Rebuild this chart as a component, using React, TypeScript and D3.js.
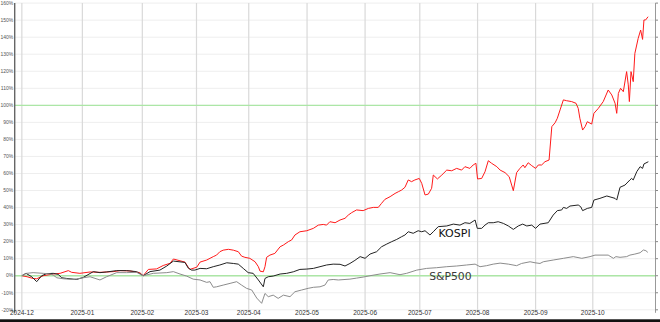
import React from "react";
import * as d3 from "d3";

// x = trading-day index (0 = first session of Dec 2024)
const monthLabels = ["2024-12","2025-01","2025-02","2025-03","2025-04","2025-05","2025-06","2025-07","2025-08","2025-09","2025-10"];
const monthStartDay = [0, 22, 43.8, 63.5, 82.5, 103.7, 124.8, 144.7, 165.7, 186.8, 207.6];
const yTicks = [-20,-10,0,10,20,30,40,50,60,70,80,90,100,110,120,130,140,150,160];
const refLines = [0, 100];

const redDay = [0,1.9,4.0,5.4,7.8,11.4,13.9,16.9,18.1,21.1,24.8,28.4,33.2,35.7,39.3,42.9,44.1,46.0,49.0,51.4,53.9,55.1,59.3,60.5,61.1,63.6,64.8,67.2,69.6,70.8,72.0,73.2,75.1,76.9,78.7,79.9,81.1,82.9,84.8,86.0,86.6,87.8,88.4,89.0,90.2,92.0,93.9,95.1,96.9,98.1,99.3,101.1,103.6,106.0,107.8,109.6,110.8,112.0,113.9,115.7,117.5,118.7,119.9,121.7,124.1,126.0,127.8,129.6,130.8,132.0,133.9,135.7,136.9,138.1,139.3,140.5,141.7,142.9,144.5,145.4,146.6,147.8,149.0,149.6,151.1,152.7,154.5,156.3,158.1,159.9,161.1,162.9,164.1,165.1,165.7,167.2,168.4,169.6,170.8,172.7,173.9,175.7,177.2,178.1,178.7,179.9,181.1,182.3,182.9,184.1,185.4,186.8,187.8,189.0,190.2,191.7,192.7,193.9,194.7,195.7,196.9,198.1,199.9,201.5,202.3,202.9,203.9,204.8,205.6,207.2,208.0,209.6,211.4,213.2,214.5,215.7,216.3,216.9,217.7,218.7,219.9,220.5,220.9,221.5,222.3,222.9,224.1,225.0,225.7,226.2,226.8,227.7];
const redValue = [0,-0.6,-1.6,-1.8,0,1,1.4,3,2,1.4,2.2,2,2.4,3,2.8,1.8,0,3.7,4,6,7.3,9.8,8,5,3.7,5,8,9.2,11.2,12.1,14.1,15,15.5,15,14.1,11.5,10.8,10.2,8.2,5.3,2.7,2.3,5.3,10.8,12.1,13.1,17,18,20,21,23.9,25.8,26.4,27.8,29.7,30.1,29.7,31.7,31.1,32.7,33.7,35.6,37,38.6,38.2,39.5,40.1,40.1,42.5,44.8,46.4,48.3,49.3,50.3,51.9,56.2,55.2,56.2,57.1,54.2,47.4,47.9,51.3,59.1,56.8,59.1,62,61.6,63,62,64,63,65,66,56.8,57.1,61,67.5,66,64,62,60.5,58.1,53.2,49.9,60.5,63,65,63.4,66.3,64.6,63,65,65,66.9,67.9,87.5,89.8,92.4,97.3,103.2,102.7,102.2,101.2,98.2,92.4,85.5,87.5,90.4,89,95.3,98.2,102.2,109,106.1,101.2,95.3,107,110,108,119.8,112,102.2,119.8,113.9,130.5,139.3,144.2,138.7,150.1,150.1,152];

const kospiDay = [0,1.5,3.6,5.4,7.2,9.0,11.4,13.2,14.5,16.3,19.9,22.3,26.0,28.4,30.8,34.5,38.1,41.7,44.1,46.6,50.2,52.7,55.1,59.3,60.5,61.7,62.9,64.8,67.2,69.6,72.0,74.5,76.9,78.7,80.5,82.3,84.1,86.0,87.8,88.4,89.6,91.4,93.9,96.3,98.7,101.1,103.6,106.0,108.4,110.8,113.2,115.7,117.5,119.3,121.1,123.0,124.8,126.6,129.0,130.8,132.7,134.5,136.3,138.1,139.3,140.5,142.3,144.1,145.4,146.6,148.4,149.6,151.4,154.5,156.9,159.3,161.1,162.9,164.8,165.6,167.2,168.4,169.6,171.4,173.2,175.1,176.9,178.7,180.5,182.1,183.6,185.4,186.8,188.4,191.4,193.2,194.7,196.3,196.9,198.1,199.3,202.3,203.2,203.9,205.6,207.2,208.0,210.2,212.7,215.7,216.3,217.5,219.3,221.1,221.7,222.3,223.6,224.8,225.7,226.2,227.8];
const kospiValue = [0,1.4,-0.6,-3.5,0,1.2,1.4,0.8,-1.2,-1.6,-2.2,-1,2.4,1.8,2.2,3,3,2.4,0,2.4,3.3,5.7,8.6,7.8,4.5,3.3,3.3,4.3,4.1,5.3,6.3,7.6,7.2,6.8,4.3,1.8,1.4,-2.5,-6.5,-1.6,-0.6,-0.2,1,1.4,2.3,3.7,3.9,4.3,5.3,6.3,6.8,6.7,5.7,7.2,9,11.2,10.2,12.7,14.1,17,18.6,20,21.3,22.9,23.9,25.8,24.9,26.4,25.8,26.4,23.9,25.8,28.8,29.2,30.3,29.7,31.1,30.7,32.7,27.8,27.8,29.7,31.1,31.1,31.7,30.7,29.2,27.2,29.2,30.3,29.2,29.7,27.8,30.3,31.1,35.6,38.2,38.6,40.1,39.5,40.9,41.5,40.5,38.2,39.5,40.1,44.4,45.4,46.8,45.4,44.4,51.9,53.2,56.2,57.1,56.2,61.1,64,63,65.6,66.9];

const spxDay = [0,1.7,4.1,7.8,10.2,11.4,12.7,15.1,18.7,22.3,24.8,28.4,30.8,34.5,38.1,41.7,44.1,47.8,52.7,55.1,57.5,59.9,62.3,64.8,67.2,68.4,69.6,70.8,73.2,75.7,78.1,79.9,81.7,83.6,85.4,87.2,88.4,89.6,91.4,93.2,95.1,97.5,99.3,101.7,104.1,106.0,108.4,110.2,111.4,113.2,115.1,117.5,119.3,121.7,124.1,126.6,130.2,133.9,137.5,139.9,143.6,147.2,150.8,154.5,158.1,161.7,164.8,166.6,169.0,171.4,173.9,176.9,179.9,181.7,184.8,186.6,188.4,189.6,193.2,196.9,200.5,203.6,206.6,208.4,213.2,215.1,216.0,217.5,219.9,221.1,222.9,224.8,226.0,226.9,227.6];
const spxValue = [0,1.4,1.8,1.4,1,0.4,-1.2,-1.8,-2.2,-1.2,-0.6,-2.5,-0.6,1.8,1.8,2,0,1.4,1.8,2.4,1,-0.2,-2,-2.5,-3.9,-3.5,-6.8,-6.5,-5.5,-4.5,-3.5,-5.5,-7.4,-8.4,-13.1,-16.2,-10.4,-12.3,-11.4,-13.3,-11.4,-12.3,-9.4,-8.4,-7.4,-6.8,-6.5,-5.5,-2.5,-2.2,-2.5,-2.2,-2,-1.4,-0.8,0,1,1.8,0.6,1.4,3.3,4.3,4.7,5.3,5.7,6.3,6.8,5.3,5.9,6.8,7.4,6.8,5.9,7.2,8.2,7.6,7.2,8.2,9.2,10.2,11.2,10.2,11.2,12.1,12.1,10.2,11.2,10.8,11.2,12.1,12.7,13.5,15.1,14.7,13.7];

const series = [
  { name: "", day: redDay, value: redValue, color: "#ff1a1a" },
  { name: "KOSPI", day: kospiDay, value: kospiValue, color: "#222222" },
  { name: "S&P500", day: spxDay, value: spxValue, color: "#8c8c8c" },
];

const W = 660, H = 322;

export default function App() {
  const x = d3.scaleLinear().domain([-2.6, 230.4]).range([14.7, 655.5]);
  const y = d3.scaleLinear().domain([-20, 160]).range([309.8, 3.1]);
  const [x0, x1] = x.range();
  const [yb, yt] = y.range();
  const lineGen = (s: any) =>
    d3.line<number>().x((_, i) => x(s.day[i])).y((v) => y(v))(s.value) || "";
  return (
    <svg width={W} height={H} style={{ position: "absolute", left: 0, top: 0, background: "#fff" }}>
      <rect x={0} y={0} width={W} height={H} fill="#fff" />
      {yTicks.map((t) => (
        <line key={"h" + t} x1={x0} x2={x1} y1={y(t)} y2={y(t)} stroke="#eeeeee" strokeWidth={1} />
      ))}
      {monthStartDay.map((d, i) => (
        <line key={"v" + i} x1={x(d)} x2={x(d)} y1={yt} y2={yb} stroke="#d9d9d9" strokeWidth={1.2} />
      ))}
      {refLines.map((t) => (
        <line key={"r" + t} x1={x0} x2={x1} y1={y(t)} y2={y(t)} stroke="#ace6a6" strokeWidth={1.4} />
      ))}
      <line x1={x0} x2={x0} y1={yt} y2={yb + 3} stroke="#666" strokeWidth={1.4} />
      <line x1={x1} x2={x1} y1={yt} y2={yb + 3} stroke="#999" strokeWidth={1} />
      {yTicks.map((t) => (
        <line key={"rt" + t} x1={x1} x2={x1 + 2.5} y1={y(t)} y2={y(t)} stroke="#888" strokeWidth={1} />
      ))}
      {yTicks.map((t) => (
        <text key={"yl" + t} x={x0 - 1.4} y={y(t)} dy="0.35em" textAnchor="end"
          fontFamily="'Liberation Sans', Arial, sans-serif" fontSize={5} fill="#555">{t}%</text>
      ))}
      {monthLabels.map((m, i) => (
        <text key={"xl" + i} x={x(monthStartDay[i])} y={315.3} textAnchor="middle"
          fontFamily="'Liberation Sans', Arial, sans-serif" fontSize={6.5} fill="#333">{m}</text>
      ))}
      {series.map((s, i) => (
        <path key={"s" + i} d={lineGen(s)} fill="none" stroke={s.color} strokeWidth={1} strokeLinejoin="round" />
      ))}
      <text x={x(151.5)} y={y(22.9)} fontFamily="'DejaVu Sans', sans-serif" fontSize={11} fill="#111">KOSPI</text>
      <text x={x(148.1)} y={y(-2.5)} fontFamily="'DejaVu Sans', sans-serif" fontSize={10.8} fill="#3a3a3a">S&amp;P500</text>
      <rect x={0} y={319.3} width={W} height={H - 319.3} fill="#111" />
    </svg>
  );
}
